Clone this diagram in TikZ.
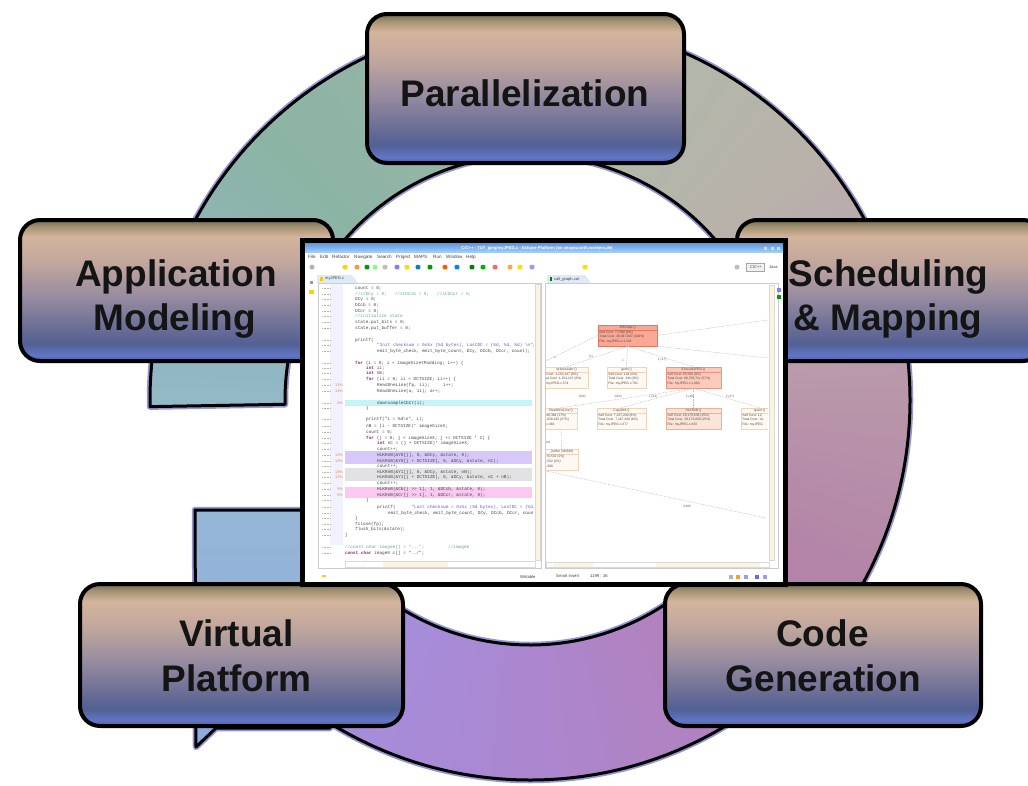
\documentclass[tikz,border=0pt]{standalone}
\usepackage{fontspec}
\setmainfont{Liberation Sans}
\newfontfamily\codefont{Liberation Mono}
\usetikzlibrary{calc}
\definecolor{bxT}{RGB}{112,108,84}
\definecolor{bxT2}{RGB}{165,148,116}
\definecolor{bxA}{RGB}{212,180,156}
\definecolor{bxA2}{RGB}{194,167,157}
\definecolor{bxB}{RGB}{152,140,160}
\definecolor{bxC}{RGB}{108,110,150}
\definecolor{bxD}{RGB}{82,96,148}
\definecolor{bxE}{RGB}{98,118,198}
\definecolor{bxF}{RGB}{72,92,162}
\pgfdeclareverticalshading{boxshade}{100bp}{color(0bp)=(bxF); color(25bp)=(bxF); color(27bp)=(bxE); color(31bp)=(bxD); color(37bp)=(bxC); color(48bp)=(bxB); color(60bp)=(bxA2); color(69bp)=(bxA); color(72.5bp)=(bxT2); color(75bp)=(bxT); color(100bp)=(bxT)}
\definecolor{glow}{RGB}{150,150,215}
\definecolor{bluetop}{RGB}{150,182,214}
\definecolor{bluebot}{RGB}{140,170,222}
\definecolor{kwc}{RGB}{140,40,120}
\definecolor{strc}{RGB}{90,90,225}
\definecolor{cmtc}{RGB}{100,170,130}
\definecolor{pctc}{RGB}{230,130,60}
\definecolor{hlcyan}{RGB}{196,244,248}
\definecolor{hlpurp}{RGB}{216,200,250}
\definecolor{hlgray}{RGB}{226,226,228}
\definecolor{hlpink}{RGB}{250,200,240}
\definecolor{gfillA}{RGB}{250,168,148}
\definecolor{gbordA}{RGB}{225,120,100}
\definecolor{gfillC}{RGB}{252,202,186}
\definecolor{gbordC}{RGB}{236,150,130}
\definecolor{gfillF}{RGB}{253,228,214}
\definecolor{gbordF}{RGB}{240,176,150}
\definecolor{gfill}{RGB}{255,249,242}
\definecolor{gbord}{RGB}{242,210,185}
\definecolor{titleA}{RGB}{95,155,228}
\definecolor{titleB}{RGB}{165,205,245}
\definecolor{tabc}{RGB}{222,234,247}
\definecolor{cream}{RGB}{253,243,226}
\newcommand{\ckw}[1]{\textcolor{kwc}{\bfseries #1}}
\newcommand{\cstr}[1]{\textcolor{strc}{#1}}
\newcommand{\ccmt}[1]{\textcolor{cmtc}{#1}}
\tikzset{
 stagebox/.style={draw=black, line width=4, rounded corners=20, shading=boxshade, inner sep=0},
 stagetext/.style={font=\fontsize{37}{44}\selectfont\bfseries, text=black!92, anchor=base, inner sep=0},
 ringline/.style={draw=black, line width=3, line join=round},
 glowline/.style={draw=glow, line width=6.5, line join=round},
 codetxt/.style={font=\codefont\fontsize{4.4}{5}\selectfont, text=black!72, anchor=west, inner sep=0},
 uitxt/.style={font=\fontsize{4.6}{5}\selectfont, text=black!75, anchor=west, inner sep=0},
 gnode/.style={line width=0.5, inner sep=0},
 gtxt/.style={font=\fontsize{3.3}{4.8}\selectfont, text=black!70, inner sep=0, align=left},
 gedge/.style={draw=black!28, line width=0.4, dash pattern=on 1.5 off 1.2},
 glabel/.style={font=\fontsize{3.2}{4}\selectfont, text=black!60, inner sep=0},
}
\newcommand{\cgnode}[7]{%
 \node[gnode, fill=#4, draw=#5, minimum width=#3, minimum height=21] (#1) at (#2) {};
 \node[gtxt, anchor=north] (#1t) at ($(#1.north)+(0,0.7)$) {#6};
 \draw[#5, line width=0.4] ($(#1.north west)+(0,5)$) -- ($(#1.north east)+(0,5)$);
 \node[gtxt, anchor=north west] (#1d) at ($(#1.north west)+(1.5,5.7)$) {#7};}
\begin{document}
\begin{tikzpicture}[x=1pt,y=-1pt]
\path[use as bounding box] (0,0) rectangle (1028,785);
\clip (0,0) rectangle (1028,785);
% ---------- ring ----------
\begin{scope}[shift={(530,400)}]
 \draw[glowline] (-181:380) arc[start angle=-181, end angle=140, radius=380] -- (140:245) arc[start angle=140, end angle=-181, radius=245] -- cycle;
 \begin{scope}
  \clip (-181:380) arc[start angle=-181, end angle=140, radius=380] -- (140:245) arc[start angle=140, end angle=-181, radius=245] -- cycle;
  \foreach \aa/\ra/\ga/\ba/\ab/\rb/\gb/\bb in {
   -184/148/185/202/-160/145/182/186,
   -160/145/182/186/-135/140/180/165,
   -135/140/180/165/-100/152/182/165,
   -100/152/182/165/-70/178/184/170,
   -70/178/184/170/-40/185/178/172,
   -40/185/178/172/-20/185/165/175,
   -20/185/165/175/0/185/150/170,
   0/185/150/170/30/180/132/168,
   30/180/132/168/60/178/130/190,
   60/178/130/190/90/172/135/208,
   90/172/135/208/120/165/142/220,
   120/165/142/220/146/158/148/226}{
   \pgfmathtruncatemacro\nst{(\ab-\aa)/2}
   \foreach \i in {1,...,\nst}{
    \pgfmathsetmacro\myt{(\i-0.5)/\nst}
    \pgfmathsetmacro\angA{\aa+(\i-1)*(\ab-\aa)/\nst}
    \pgfmathsetmacro\angB{\aa+\i*(\ab-\aa)/\nst+0.4}
    \pgfmathtruncatemacro\cR{\ra+(\rb-\ra)*\myt}
    \pgfmathtruncatemacro\cG{\ga+(\gb-\ga)*\myt}
    \pgfmathtruncatemacro\cB{\ba+(\bb-\ba)*\myt}
    \definecolor{wc}{RGB}{\cR,\cG,\cB}
    \fill[wc] (0,0) -- (\angA:400) -- (\angB:400) -- cycle;
   }
  }
 \end{scope}
 \draw[ringline] (-181:380) arc[start angle=-181, end angle=140, radius=380] -- (140:245) arc[start angle=140, end angle=-181, radius=245] -- cycle;
\end{scope}
% ---------- blue arrow piece ----------
\draw[glowline] (195,510) -- (330,510) -- (330,728) -- (216,728) -- (196,747) -- cycle;
\shade[top color=bluetop, bottom color=bluebot] (195,510) -- (330,510) -- (330,728) -- (216,728) -- (196,747) -- cycle;
\draw[ringline] (195,510) -- (330,510) -- (330,728) -- (216,728) -- (196,747) -- cycle;
% ---------- stage boxes ----------
\node[stagebox, minimum width=317, minimum height=149] (bpar) at (525.5,88.5) {};
\node[stagebox, minimum width=313, minimum height=141] (bapp) at (176.5,290.5) {};
\node[stagebox, minimum width=306, minimum height=141] (bsch) at (890,290.5) {};
\node[stagebox, minimum width=323, minimum height=142] (bvp) at (241.5,655) {};
\node[stagebox, minimum width=316, minimum height=142] (bcg) at (823,655) {};
\node[stagetext] (tpar) at (525,106.5) {Parallelization};
\node[stagetext] (tapp1) at (176,286) {Application};
\node[stagetext] (tapp2) at (175,330) {Modeling};
\node[stagetext] (tsch1) at (888.5,286) {Scheduling};
\node[stagetext] (tsch2) at (888,330) {\& Mapping};
\node[stagetext] (tvp1) at (236.5,646) {Virtual};
\node[stagetext] (tvp2) at (236.5,691) {Platform};
\node[stagetext] (tcg1) at (822.5,646) {Code};
\node[stagetext] (tcg2) at (823.5,691) {Generation};
% ---------- screenshot ----------
\node[draw=black, line width=5, fill=white, minimum width=483, minimum height=344, inner sep=0] (shot) at (544,412.5) {};
\shade[top color=titleA, bottom color=titleB] (305,243.5) rectangle (783,252);
\node[font=\fontsize{4.2}{5}\selectfont\bfseries, text=white, inner sep=0] (ttl) at (537,248) {C/C++ - TUT\_jpeg/myJPEG.c - Eclipse Platform (on seayou.with.workers.de)};
\foreach \bx [count=\k] in {765,772,778}{\node[fill=white!85!blue, minimum size=3, inner sep=0] (wb\k) at (\bx,248) {};}
\foreach \mx/\mt [count=\k] in {308/File,320/Edit,332/Refactor,354/Navigate,377/Search,396/Project,414/MAPS,433/Run,446/Window,466/Help}{
 \node[uitxt, anchor=base west] (menu\k) at (\mx,258.3) {\mt};}
\foreach \tx/\tc in {312/gray!60,345/yellow!70!orange,357/orange!80,367/green!60!black,375/green!50,385/gray!50,397/blue!50,407/yellow!80!orange,418/cyan!60!blue,430/green!60!black,445/orange!70!red,457/blue!50!cyan,472/green!50!black,483/green!70!black,495/red!60,510/orange!70,520/yellow!80!orange,532/blue!40,585/yellow!80!orange,737/gray!50}{
 \fill[\tc, rounded corners=1] (\tx-2.3,264.8) rectangle (\tx+2.3,269.4);}
\draw[black!35, fill=black!6, line width=0.4] (746,263.5) rectangle (764,271);
\node[uitxt, font=\fontsize{4}{5}\selectfont] (persp1) at (750,267.3) {C/C++};
\node[uitxt, font=\fontsize{4}{5}\selectfont] (persp2) at (769,267.3) {Java};
% left side column
\fill[black!40] (309.5,281) rectangle (312.5,283.5);
\fill[yellow!70!orange] (309,290) rectangle (314,293.5);
% editor tab & frame
\fill[tabc] (317,275) -- (352,275) -- (358,283) -- (317,283) -- cycle;
\fill[yellow!60!orange] (320,277) rectangle (323,281);
\node[uitxt, font=\fontsize{4}{5}\selectfont] (tab1) at (325,279) {myJPEG.c};
\draw[black!20, line width=0.5, fill=white] (318,283) rectangle (541,568);
\fill[blue!5] (330,284) rectangle (343,545);
% highlight bars
\fill[hlcyan] (345,400) rectangle (532,406);
\fill[hlpurp] (345,451) rectangle (532,464);
\fill[hlgray] (345,468) rectangle (532,481);
\fill[hlpink] (345,487) rectangle (532,498);
% code
\begin{scope}
\clip (319,284) rectangle (533,560);
\foreach \yy/\xx/\tx [count=\k] in {
288/355/{count = 0;},
294/355/{\ccmt{//stDCy = 0;\ \ \ //stDCcb = 0;\ \ \ //stDCcr = 0;}},
299/355/{DCy = 0;},
305/355/{DCcb = 0;},
311/355/{DCcr = 0;},
316/355/{\ccmt{//initialize state}},
322/355/{state.put\_bits = 0;},
328/355/{state.put\_buffer = 0;},
340/355/{printf(},
345/377/{\cstr{"Init checksum = 0x\%x (\%d bytes), LastDC = (\%d, \%d, \%d) \textbackslash n",}},
351/377/{emit\_byte\_check, emit\_byte\_count, DCy, DCcb, DCcr, count);},
363/355/{\ckw{for} (i = 0; i < imageSizeYPadding; i++) \{},
368/366/{\ckw{int} ii;},
373/366/{\ckw{int} nB;},
379/366/{\ckw{for} (ii = 0; ii < DCTSIZE; ii++) \{},
385/377/{ReadOneLine(fp, ii);\ \ \ \ \ i++;},
391/377/{ReadOneLine(a, ii); a++;},
403/377/{downsampleCbCr(i);},
408/366/{\}},
419/366/{printf("i = \%d\textbackslash n", i);},
426/366/{nB = (i - DCTSIZE)* imageSizeX;},
432/366/{count = 0;},
438/366/{\ckw{for} (j = 0; j < imageSizeX; j += DCTSIZE * 2) \{},
443/377/{\ckw{int} nC = (j + DCTSIZE)* imageSizeX;},
449/377/{count++;},
455/377/{HLKRnB(\&Y0[j], 0, \&DCy, \&state, 0);},
461/377/{HLKRnB(\&Y0[j + DCTSIZE], 0, \&DCy, \&state, nC);},
466/377/{count++;},
472/377/{HLKRnB(\&Y1[j], 0, \&DCy, \&state, nB);},
477/377/{HLKRnB(\&Y1[j + DCTSIZE], 0, \&DCy, \&state, nC + nB);},
483/377/{count++;},
489/377/{HLKRnB(\&Cb[j >> 1], 1, \&DCcb, \&state, 0);},
495/377/{HLKRnB(\&Cr[j >> 1], 1, \&DCcr, \&state, 0);},
500/366/{\}},
507/377/{printf(\ \ \ \ \ \ \cstr{"Last checksum = 0x\%x (\%d bytes), LastDC = (\%d, \%d, \%d) \textbackslash n",}},
513/388/{emit\_byte\_check, emit\_byte\_count, DCy, DCcb, DCcr, count);},
518/355/{\}},
524/355/{fclose(fp);},
529/355/{flush\_bits(\&state);},
535/345/{\}},
547/345/{\ccmt{//const char image0[] = "...";\ \ \ \ \ \ \ \ \ //image0}},
553/345/{\ckw{const char} image0 c[] = "../";},
563/345/{\ckw{static int} a\_count = 0;}}{
 \node[codetxt] (code\k) at (\xx,\yy) {\tx};
 \draw[black!30, line width=0.5, dash pattern=on 0.7 off 0.8] (322,\yy) -- (330,\yy);
}
\end{scope}
\foreach \py/\pt [count=\k] in {385/13\%,391/13\%,403/0\%,455/13\%,461/13\%,472/13\%,477/13\%,489/9\%,495/9\%}{
 \node[font=\fontsize{3.8}{4}\selectfont, text=pctc, anchor=east, inner sep=0] (pct\k) at (343,\py) {\pt};}
% editor scrollbars
\draw[black!15, fill=cream, line width=0.4] (535,284) rectangle (540,560);
\draw[black!15, fill=white, line width=0.4] (345,561) rectangle (535,567);
\fill[cream] (383,561.5) rectangle (448,566.5);
% right pane
\fill[tabc] (547,275) -- (585,275) -- (591,283) -- (547,283) -- cycle;
\fill[green!50!black] (550,277) rectangle (552,281);
\node[uitxt, font=\fontsize{4}{5}\selectfont] (tab2) at (554,279) {call\_graph.cal};
\draw[black!20, line width=0.5, fill=white] (545,283) rectangle (778,568);
\fill[blue!50] (777,288) rectangle (781,292);
\fill[green!60!black] (777,295) rectangle (781,299);
\draw[black!15, fill=cream, line width=0.4] (769,285) rectangle (774,560);
\draw[black!15, fill=white, line width=0.4] (546,562) rectangle (769,567);
\fill[cream] (553,562.5) rectangle (593,566.5);
\fill[cream] (656,562.5) rectangle (760,566.5);
\begin{scope}
\clip (546,284) rectangle (768,561);
\cgnode{gmain}{627.5,335.5}{59}{gfillA}{gbordA}{JPEGtop ()}{Self Cost: 77,590 (0\%)\\Total Cost: 20,467,047 (100\%)\\File: myJPEG.c:1,101}
\cgnode{gA}{566.5,377.5}{43}{gfill}{gbord}{writeheader ()}{ Cost: 1,154,147 (6\%)\\al Cost: 1,154,147 (6\%)\\myJPEG.c:574}
\cgnode{gB}{626.5,377.5}{39}{gfill}{gbord}{getm ()}{Self Cost: 144 (0\%)\\Total Cost: 144 (0\%)\\File: myJPEG.c:761}
\cgnode{gC}{693.5,377.5}{55}{gfillC}{gbordC}{ExecuteJPEG ()}{Self Cost: 85,500 (0\%)\\Total Cost: 68,768,71x (57\%)\\File: myJPEG.c:1,003}
\cgnode{gD}{561,418.5}{32}{gfill}{gbord}{ReadOneLine ()}{48,384 (27\%)\\,038,432 (27\%)\\c:463}
\cgnode{gE}{621.5,418.5}{49}{gfill}{gbord}{Copy8x8 ()}{Self Cost: 7,167,200 (6\%)\\Total Cost: 7,167,200 (6\%)\\File: myJPEG.c:377}
\cgnode{gF}{693.5,418.5}{55}{gfillF}{gbordF}{HLKRnB ()}{Self Cost: 29,179,838 (25\%)\\Total Cost: 29,179,839 (25\%)\\File: myJPEG.c:433}
\cgnode{gG}{759.5,418.5}{37}{gfill}{gbord}{quant ()}{Self Cost: 14,\\Total Cost: 14,\\File: myJPEG}
\cgnode{gH}{561.5,460}{33}{gfill}{gbord}{\_buffer (48,640)}{76,532 (2\%)\\,532 (2\%)\\,390}
\coordinate (eL) at (546,361);
\coordinate (eR1) at (768,320);
\coordinate (eR2) at (768,358);
\coordinate (eLong) at (766,518);
\draw[gedge] (gmain.south) -- (gA.north);
\draw[gedge] (gmain.south) -- (gB.north);
\draw[gedge] (gmain.south) -- (gC.north);
\draw[gedge] (gmain.west) -- (eL);
\draw[gedge] (gmain.east) -- (eR1);
\draw[gedge] (gmain.south east) -- (eR2);
\draw[gedge] (gC.south) -- (gD.north);
\draw[gedge] (gC.south) -- (gE.north);
\draw[gedge] (gC.south) -- (gF.north);
\draw[gedge] (gC.south) -- (gG.north);
\draw[gedge] (gD.south) -- (gH.north);
\draw[gedge] (gH.south west) -- (eLong);
\node[glabel] (l1) at (555,357) {1};
\node[glabel] (l2) at (591,357) {(1)};
\node[glabel] (l3) at (623,360) {1};
\node[glabel] (l4) at (662,360) {1 (47)};
\node[glabel] (l5) at (582,397) {1(64)};
\node[glabel] (l6) at (618,397) {1(64)};
\node[glabel] (l7) at (653,397) {1 (64)};
\node[glabel] (l8) at (690,397) {2 (48)};
\node[glabel] (l9) at (730,397) {2 (47)};
\node[glabel] (l10) at (548,442) {ss0};
\node[glabel] (l11) at (687,507) {4,460};
\end{scope}
% status bar
\node[uitxt, font=\fontsize{4.2}{5}\selectfont] (st1) at (520,576.5) {Writable};
\node[uitxt, font=\fontsize{4.2}{5}\selectfont] (st2) at (556,576.5) {Smart Insert};
\node[uitxt, font=\fontsize{4.2}{5}\selectfont] (st3) at (590,576.5) {1199 : 26};
\foreach \sx/\sc in {731/gray!60,738/orange!80,746/blue!40,757/blue!60,765/blue!40}{
 \fill[\sc] (\sx-2,574.5) rectangle (\sx+2,578.5);}
\fill[yellow!70!orange] (322,575) rectangle (326,577);
\end{tikzpicture}
\end{document}
